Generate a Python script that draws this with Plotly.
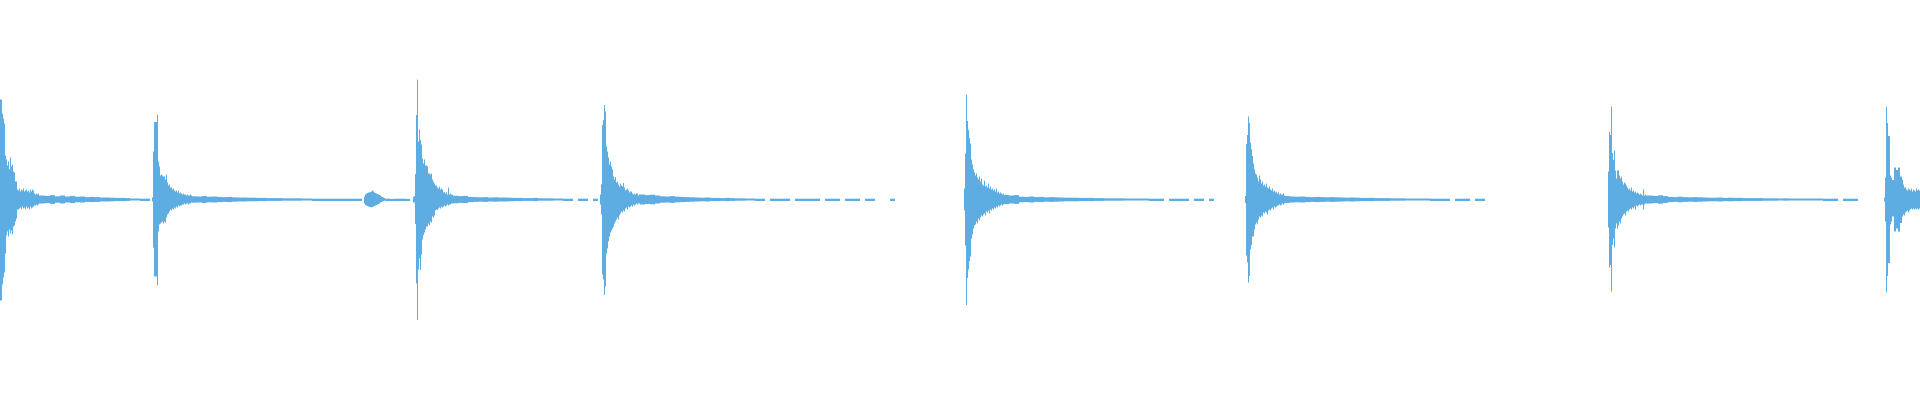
import plotly.graph_objects as go

# Waveform.
# Amplitude unit: 1/200 of full scale (positive = above centre line, "bot" = magnitude below).
# Each hit: onset column, per-column top/bottom peaks for the attack, then a
# symmetric low-level tail sampled every 5 columns.

TAIL_STEP = 5

h1_onset = 0
h1_top = [100, 100, 86, 81, 76, 44, 40, 34, 38, 30, 42, 33, 35, 28, 27, 18, 18, 10, 9, 11,
          8, 10, 9, 11, 8, 9, 10, 8, 9, 7, 10, 8, 10, 9, 6, 5, 6, 5, 6, 4]
h1_bot = [101, 101, 85, 78, 73, 54, 36, 32, 37, 30, 34, 31, 35, 27, 26, 22, 19, 10, 10, 9,
          8, 10, 7, 9, 8, 10, 7, 9, 8, 10, 7, 9, 8, 7, 6, 6, 5, 6, 5, 4]
h1_tail = [4, 3.6, 4.4, 3.2, 4, 3, 3.6, 2.8, 3, 2.4, 2.6, 2.4, 2, 2, 1.8, 1.6, 1.6, 1.4,
           1, 1, 0.8, 0.8]

h2_onset = 152
h2_top = [2, 48, 77.5, 77.5, 77.5, 84.5, 38, 33, 24, 25, 24, 23, 23, 20, 25, 17, 14, 15, 12, 12,
          10, 11, 9, 8, 9, 7, 9, 6, 7, 6, 5, 6, 5, 5, 4, 5, 4, 4, 5, 4]
h2_bot = [2, 48, 77, 77, 77, 85.5, 32, 25, 24, 23, 22, 24, 22, 23, 18, 15, 14, 12, 10, 11,
          9, 10, 8, 9, 7, 8, 6, 7, 6, 6, 5, 5, 4, 5, 4, 4, 5, 4, 4, 3]
h2_tail = [3.2, 3, 3.4, 2.8, 3, 2.6, 2.4, 2.6, 2.2, 2, 2, 1.8, 1.8, 1.6, 1.6, 1.4, 1.4, 1.4,
           1.2, 1.2, 1.2, 1.2, 1, 1, 0.8, 0.8, 0.8, 0.8, 0.8, 0.8, 0.8, 0.8, 0.8, 0.8]

blip_onset = 364
blip_top = [3, 5, 6, 6.5, 7, 7, 7.5, 8, 9, 8, 7, 6.5, 6, 5.5, 5, 4.5, 4, 3, 2.5, 2, 1.5]
blip_bot = [4, 5.5, 6, 6.5, 7, 7.5, 7.5, 8, 7.5, 7, 6.5, 6, 5.5, 5, 4.5, 4, 3, 2.5, 2, 1.5, 1]
blip_tail = [0.8, 0.6, 0.8, 0.8, 0.6]

h3_onset = 413
h3_top = [3, 3, 25.5, 84.5, 120, 58, 70, 59.5, 55, 41, 36, 40, 34, 34, 33, 26, 26, 25, 26, 20,
          18, 16, 14, 14, 12, 11, 13, 10, 11, 10, 7, 7.5, 6, 7, 5, 12, 5, 6, 5, 4.5]
h3_bot = [3, 3, 24.5, 84, 120.5, 70, 59, 70.5, 55, 40, 35.5, 33, 30, 27, 27, 24, 26, 22, 23, 17,
          18, 16, 11, 10, 10.5, 9, 8, 9, 7, 8, 7, 6, 7, 6, 5, 6, 5, 5, 4, 4]
h3_tail = [3.8, 3.4, 3.6, 2.6, 2.4, 2.2, 2.4, 2, 2.2, 2, 2, 1.8, 1.6, 1.6, 1.4, 1.4, 1.6, 1.2,
           1.2, 1.2, 1, 1, 0.8, 0.8, 0, 0.8, 0.8, 0, 0.8]

h4_onset = 600
h4_top = [5, 15, 74.5, 79.5, 94.5, 88, 53, 48, 42, 35, 38, 33, 30, 23, 20, 22.5, 17, 18, 15, 13,
          16, 14, 13, 16.5, 12, 9, 10, 11, 9, 7, 8, 8, 6, 5, 6, 5, 6, 6, 4, 5]
h4_bot = [5, 15, 75, 80, 95.5, 87, 54, 49, 42, 37, 33, 31, 29, 27, 24, 22, 20, 18, 20, 16,
          14, 12, 13, 11, 12, 9, 8, 10, 7, 8, 7, 6, 7, 5, 6, 5, 4, 5, 4, 4]
h4_tail = [5, 4.4, 4.8, 4, 3.2, 3, 3.4, 2.8, 2.6, 2.4, 2.2, 2, 1.8, 2, 1.6, 1.6, 1.4, 1.6, 1.4,
           1.2, 1.2, 1, 1, 0.8, 0.8, 0, 0.8, 0.8, 0.8, 0.8, 0, 0.8, 0.8, 0.8, 0.8, 0.8, 0,
           0.8, 0.8, 0.8, 0, 0.8, 0.8, 0.8, 0, 0.8, 0.8, 0, 0, 0, 0.8]

h5_onset = 964
h5_top = [11, 46, 105, 78.5, 69.5, 61.5, 56, 40, 35, 30, 27, 24, 26, 22, 20, 23, 18, 21, 15, 14,
          19, 13, 14, 12, 16, 11, 13, 10, 11, 9, 10, 8, 11, 7, 8, 6, 7, 6, 5, 6]
h5_bot = [11, 46, 105.5, 78.5, 70, 61.5, 57, 39, 35, 29, 26, 25, 22, 24, 19, 21, 18, 16, 17, 15,
          14, 16, 12, 13, 11, 14, 10, 11, 9, 10, 8, 9, 7, 8, 6, 7, 6, 5, 6, 5]
h5_tail = [4.6, 4, 4.4, 2.8, 2.6, 3, 2.4, 2.6, 2.2, 2.4, 2.2, 2, 1.8, 1.8, 1.8, 1.6, 1.6, 1.6,
           1.4, 1.4, 1.2, 1.2, 1.2, 1.2, 1, 1, 1, 1, 1, 0.8, 0.8, 0.8, 0, 0.8, 0.8, 0.8, 0.8,
           0, 0.8, 0.8, 0, 0.8]

h6_onset = 1245
h6_top = [3.5, 55.5, 64.5, 83, 76.5, 57, 50.5, 43.5, 36, 30, 26, 25, 22, 18, 24, 20, 16, 18, 14, 15,
          13, 16, 12, 11, 13, 10, 9, 11, 8, 9, 7, 8, 6, 7, 5, 6, 5, 5, 6, 4]
h6_bot = [3.5, 56, 63, 83, 76.5, 50, 45.5, 37, 37, 30, 25, 23, 25, 20, 17, 18, 16, 17, 13, 14,
          12, 13, 15, 11, 10, 11, 9, 8, 10, 7, 8, 7, 6, 6, 5, 6, 5, 4, 5, 4]
h6_tail = [3.4, 3, 2.8, 3, 2.6, 2.4, 2.6, 2.4, 2.2, 2.4, 2.2, 2, 1.8, 2, 1.8, 1.6, 1.6, 1.6,
           1.4, 1.4, 1.4, 1.2, 1.2, 1.2, 1, 1, 1, 1, 1, 0.8, 0.8, 0.8, 0.8, 0, 0.8, 0.8, 0.8,
           0, 0.8, 0.8]

h7_onset = 1608
h7_top = [28, 67.5, 64.5, 93, 46.5, 39.5, 49, 29, 21, 29, 29, 24, 21, 23, 18, 15, 17, 16, 14, 12,
          10, 11, 9, 12, 8, 9, 7, 8, 6, 7, 6, 5, 6, 5, 4, 10, 4, 5, 4, 4]
h7_bot = [28, 68, 65.5, 92, 45.5, 39, 48, 29, 24, 29, 26, 22, 24, 19, 17, 15, 14, 16, 12, 11,
          12, 10, 9, 10, 8, 9, 7, 10, 6, 7, 6, 5, 6, 5, 5, 10, 5, 4, 4, 4]
h7_tail = [4, 3.6, 4.2, 3.4, 2.6, 2.4, 2.8, 2.4, 2.2, 2.4, 2.2, 2, 1.8, 1.8, 2, 1.6, 1.8, 1.6,
           1.6, 1.4, 1.4, 1.4, 1.4, 1.2, 1.2, 1.2, 1, 1.2, 1, 1, 1, 1, 1, 1, 1, 0.8, 0.8, 0.8,
           0, 0.8, 0.8, 0.8]

h8_onset = 1884
h8_top = [2, 22, 92.5, 76.5, 63.5, 63.5, 24, 22, 19.5, 19.5, 32, 32, 29.5, 29.5, 32, 32, 23, 23,
          20, 15, 12, 12, 10, 9, 11, 10, 9, 11, 8, 10, 9, 8, 11, 9, 10, 9]
h8_bot = [2, 22, 93, 76.5, 63.5, 63.5, 25, 22, 17, 17, 32, 32, 29, 29, 32, 32, 23.5, 23.5,
          17, 15, 16, 13, 12, 11, 13, 11, 10, 9, 10, 9, 10, 9, 10, 9, 10, 9]
h8_tail = []

segments = [
    (h1_onset, h1_top, h1_bot, h1_tail),
    (h2_onset, h2_top, h2_bot, h2_tail),
    (blip_onset, blip_top, blip_bot, blip_tail),
    (h3_onset, h3_top, h3_bot, h3_tail),
    (h4_onset, h4_top, h4_bot, h4_tail),
    (h5_onset, h5_top, h5_bot, h5_tail),
    (h6_onset, h6_top, h6_bot, h6_tail),
    (h7_onset, h7_top, h7_bot, h7_tail),
    (h8_onset, h8_top, h8_bot, h8_tail),
]

xs, hs, bs, ws = [], [], [], []
for onset, top, bot, tail in segments:
    for i, (t, b) in enumerate(zip(top, bot)):
        xs.append(onset + i + 0.5)
        hs.append(t + b)
        bs.append(-b)
        ws.append(1.0)
    start = onset + len(top)
    for j, a in enumerate(tail):
        if a <= 0:
            continue
        xs.append(start + j * TAIL_STEP + TAIL_STEP / 2)
        hs.append(2 * a)
        bs.append(-a)
        ws.append(float(TAIL_STEP))

fig = go.Figure(go.Bar(
    x=xs, y=hs, base=bs, width=ws,
    marker=dict(color="#5DADE2", line=dict(width=0)),
    hoverinfo="skip",
))
fig.update_layout(
    width=1920, height=400,
    margin=dict(l=0, r=0, t=0, b=0),
    paper_bgcolor="white", plot_bgcolor="white",
    showlegend=False,
    xaxis=dict(range=[0, 1920], visible=False, fixedrange=True),
    yaxis=dict(range=[-200.5, 199.5], visible=False, fixedrange=True),
)
fig.write_html(
    "out.html",
    config={"displayModeBar": False},
    post_script="document.body.style.margin='0';document.body.style.overflow='hidden';",
)
